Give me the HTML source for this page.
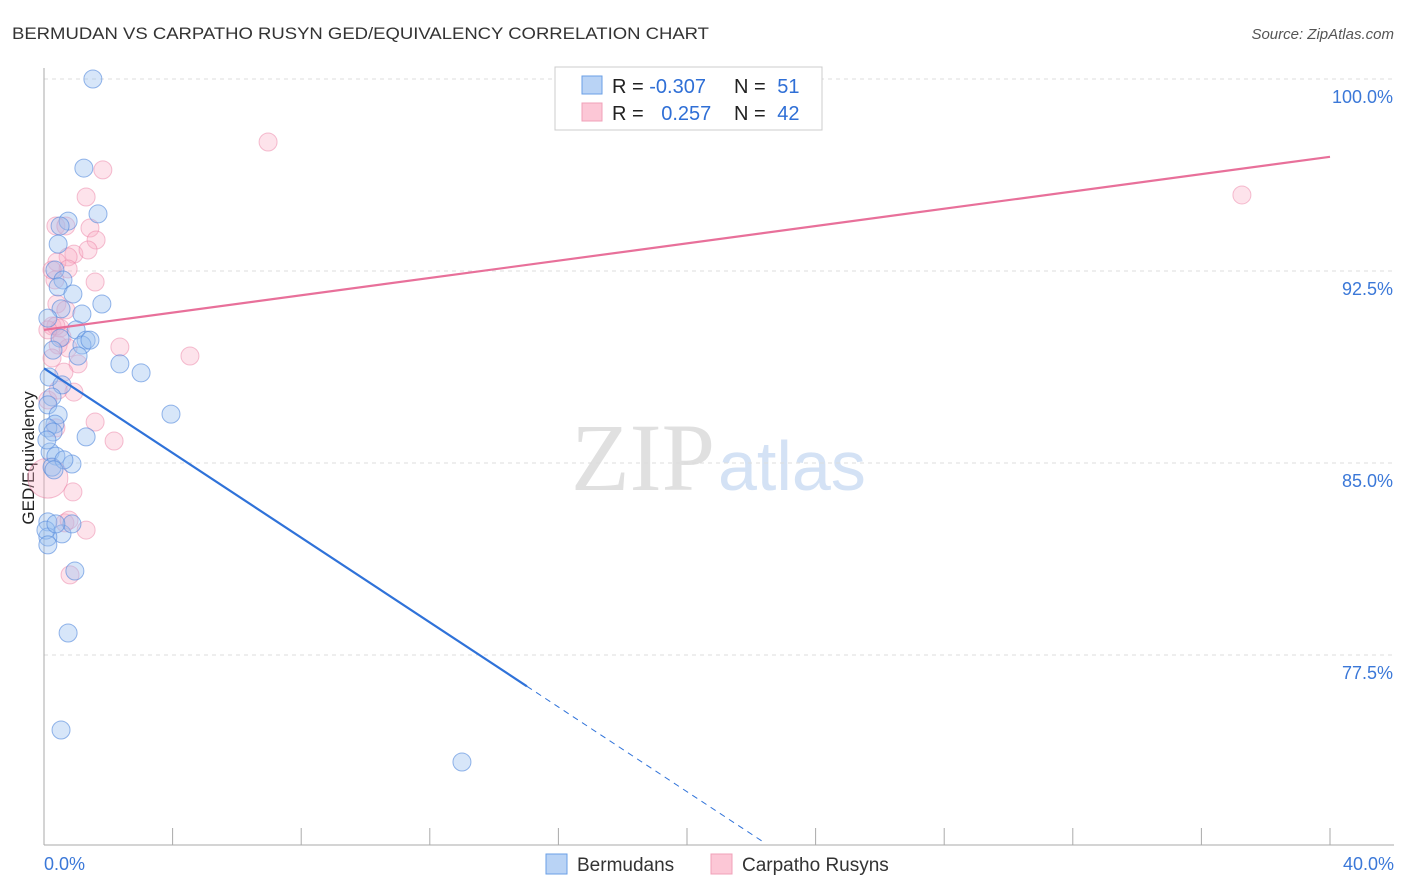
<!DOCTYPE html>
<html><head><meta charset="utf-8"><style>
body{margin:0;background:#fff;font-family:"Liberation Sans",sans-serif}
svg{display:block}
</style></head><body>
<svg id="c" width="1406" height="892">
<text x="12" y="39" font-size="17" fill="#333" textLength="697" lengthAdjust="spacingAndGlyphs">BERMUDAN VS CARPATHO RUSYN GED/EQUIVALENCY CORRELATION CHART</text>
<text x="1394" y="39" font-size="15" fill="#555" font-style="italic" text-anchor="end">Source: ZipAtlas.com</text>
<text x="715" y="490" font-size="96" fill="#e0e0e0" text-anchor="end" font-family="Liberation Serif,serif">ZIP</text>
<text x="718" y="490" font-size="70" fill="#d4e2f5">atlas</text>
<text transform="translate(34,458) rotate(-90)" font-size="17" fill="#222" text-anchor="middle">GED/Equivalency</text>
<g id="grid"></g><g id="pts"></g><g id="lines"></g>
<g>
<rect x="555" y="67" width="267" height="63" fill="#fff" stroke="#ccc"/>
<rect x="582" y="76" width="20" height="18" fill="#b9d3f5" stroke="#6a9fe6"/>
<rect x="582" y="103" width="20" height="18" fill="#fcc7d6" stroke="#f0a0b8"/>
<text x="612" y="93" font-size="20" fill="#222">R = <tspan fill="#2f6fd6">-0.307</tspan></text>
<text x="734" y="93" font-size="20" fill="#222">N = <tspan fill="#2f6fd6" dx="6">51</tspan></text>
<text x="612" y="120" font-size="20" fill="#222">R = <tspan fill="#2f6fd6" dx="12">0.257</tspan></text>
<text x="734" y="120" font-size="20" fill="#222">N = <tspan fill="#2f6fd6" dx="6">42</tspan></text>
</g>
<g>
<rect x="546" y="854" width="21" height="20" fill="#b9d3f5" stroke="#6a9fe6"/>
<text x="577" y="871" font-size="19" fill="#333">Bermudans</text>
<rect x="711" y="854" width="21" height="20" fill="#fcc7d6" stroke="#f0a0b8"/>
<text x="742" y="871" font-size="19" fill="#333">Carpatho Rusyns</text>
</g>
</svg>
<script>
const yTicks=[100,92.5,85,77.5];
const yTickLabels=["100.0%","92.5%","85.0%","77.5%"];
const xTickCount=10;
const blueX=[1.52,1.24,1.68,0.75,0.50,0.44,0.34,0.59,0.44,0.90,1.80,0.53,1.18,0.12,1.00,0.50,1.31,1.18,0.28,1.06,2.36,3.02,0.16,0.56,0.25,0.12,0.44,3.95,0.34,0.12,0.28,1.31,0.19,0.37,0.87,0.25,0.12,0.56,0.12,0.87,0.96,0.75,0.53,13.0,0.06,0.37,0.12,0.62,0.31,0.09,1.43];
const blueY=[100.0,96.52,94.73,94.45,94.26,93.55,92.54,92.15,91.88,91.60,91.21,91.02,90.82,90.66,90.20,89.88,89.80,89.61,89.41,89.18,88.87,88.52,88.36,88.05,87.58,87.27,86.88,86.91,86.52,86.37,86.21,86.02,85.43,85.27,84.96,84.84,82.70,82.23,82.11,82.62,80.78,78.36,74.57,73.32,82.38,82.62,81.80,85.12,84.73,85.90,89.80];
const pinkX=[6.97,1.83,1.31,0.37,1.43,0.68,1.62,0.93,0.75,1.37,0.40,0.75,0.34,1.59,0.40,0.68,0.25,0.50,0.44,0.75,2.36,4.54,1.06,0.25,0.62,0.93,0.12,0.37,1.59,2.18,0.12,0.90,0.65,1.31,0.81,0.37,0.56,37.26,0.12,0.25,0.44,0.78];
const pinkY=[97.54,96.45,95.39,94.26,94.18,94.26,93.71,93.16,93.05,93.32,92.85,92.58,92.15,92.07,91.21,90.98,90.35,90.27,89.61,89.49,89.53,89.18,88.87,89.10,88.55,87.77,87.46,86.37,86.60,85.86,84.41,83.87,82.66,82.38,80.63,90.35,89.92,95.47,90.20,92.54,87.85,82.77];
const pinkR=pinkX.map((v,i)=>i===30?20:9);
const blueTrend=[88.7,-0.827,15.02];
const pinkTrend=[90.2,0.169];
const NS='http://www.w3.org/2000/svg';
const sx=v=>44+v*32.15, sy=v=>79+(100-v)*25.6;
function mk(t,a,p){const e=document.createElementNS(NS,t);for(const k in a)e.setAttribute(k,a[k]);p.appendChild(e);return e;}
const grid=document.getElementById('grid');
yTicks.forEach((t,i)=>{
 const l=mk('line',{x1:44,x2:1394,y1:sy(t),y2:sy(t),stroke:'#ddd','stroke-dasharray':'4,4'},grid);
 
 
 const tx=mk('text',{x:1393,y:sy(t)+24,'font-size':18,fill:'#3b78d8','text-anchor':'end'},grid);
 tx.textContent=yTickLabels[i];
 
 
});
mk('line',{x1:44,x2:44,y1:68,y2:845,stroke:'#aaa'},grid);
mk('line',{x1:44,x2:1394,y1:845,y2:845,stroke:'#aaa'},grid);
for(let i=0;i<=xTickCount;i++){
 const x=sx(i*4);
 const t=mk('line',{x1:x,x2:x,y1:828,y2:845,stroke:'#aaa'},grid);
 
 
}
const x0=mk('text',{x:44,y:870,'font-size':18,fill:'#3b78d8'},grid);x0.textContent='0.0%';


const x1=mk('text',{x:1394,y:870,'font-size':18,fill:'#3b78d8','text-anchor':'end'},grid);x1.textContent='40.0%';


const pts=document.getElementById('pts');
pinkX.forEach((v,i)=>{
 const c=mk('circle',{cx:sx(v),cy:sy(pinkY[i]),r:pinkR[i],fill:'rgba(248,175,198,0.35)',stroke:'rgba(235,130,165,0.5)','stroke-width':1},pts);
 
 
});
blueX.forEach((v,i)=>{
 const c=mk('circle',{cx:sx(v),cy:sy(blueY[i]),r:9,fill:'rgba(155,192,240,0.4)',stroke:'rgba(80,135,220,0.6)','stroke-width':1},pts);
 
 
});
const lines=document.getElementById('lines');
const bf=x=>blueTrend[0]+blueTrend[1]*x;
const bl=mk('line',{x1:sx(0),y1:sy(bf(0)),x2:sx(blueTrend[2]),y2:sy(bf(blueTrend[2])),stroke:'#2f72d9','stroke-width':2.2},lines);


const xe=(70.16-blueTrend[0])/blueTrend[1];
const bd=mk('line',{x1:sx(blueTrend[2]),y1:sy(bf(blueTrend[2])),x2:sx(xe),y2:sy(bf(xe)),stroke:'#2f72d9','stroke-width':1,'stroke-dasharray':'6,5'},lines);


const pf=x=>pinkTrend[0]+pinkTrend[1]*x;
const pl=mk('line',{x1:sx(0),y1:sy(pf(0)),x2:sx(40),y2:sy(pf(40)),stroke:'#e8709a','stroke-width':2.2},lines);


</script>
</body></html>
